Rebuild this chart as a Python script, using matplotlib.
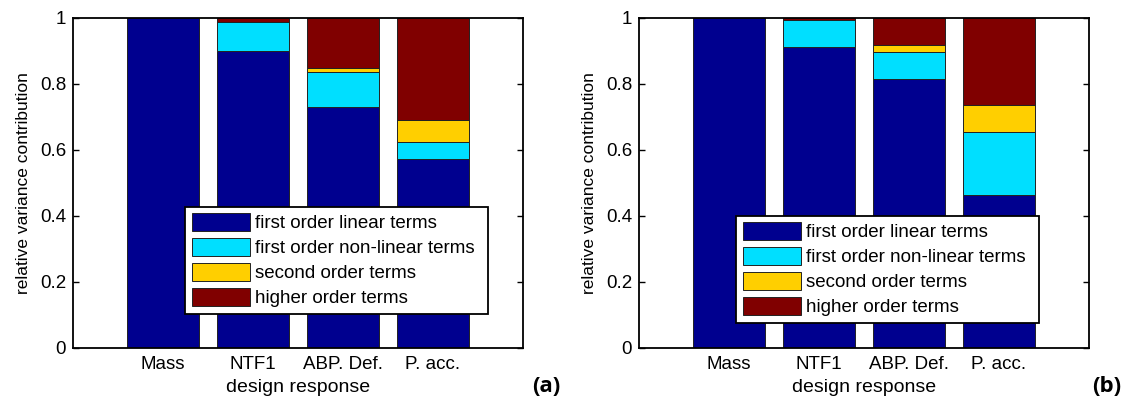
import matplotlib
matplotlib.use("Agg")
import matplotlib.pyplot as plt
import numpy as np

plt.rcParams['font.family'] = ['Liberation Sans', 'DejaVu Sans']

categories = ["Mass", "NTF1", "ABP. Def.", "P. acc."]
series_names = ["first order linear terms", "first order non-linear terms",
                "second order terms", "higher order terms"]
colors = ["#00008F", "#00DFFF", "#FFCF00", "#800000"]

# panel (a)
a_linear    = [1.000, 0.900, 0.729, 0.574]
a_nonlinear = [0.000, 0.089, 0.108, 0.050]
a_second    = [0.000, 0.000, 0.013, 0.067]
a_higher    = [0.000, 0.011, 0.150, 0.309]

# panel (b)
b_linear    = [1.000, 0.913, 0.816, 0.465]
b_nonlinear = [0.000, 0.082, 0.080, 0.191]
b_second    = [0.000, 0.000, 0.023, 0.079]
b_higher    = [0.000, 0.005, 0.081, 0.265]

yticks = [0, 0.2, 0.4, 0.6, 0.8, 1]
ytick_labels = ["0", "0.2", "0.4", "0.6", "0.8", "1"]

W, H = 1129, 398
fig = plt.figure(figsize=(W / 100, H / 100), dpi=100)

def draw(rect, data, legend_rect, tag, tag_xy):
    ax = fig.add_axes(rect)
    x = np.arange(1, len(categories) + 1)
    bottom = np.zeros(len(categories))
    handles = []
    for vals, c, name in zip(data, colors, series_names):
        h = ax.bar(x, vals, width=0.8, bottom=bottom, color=c,
                   edgecolor="#222222", linewidth=0.7, label=name)
        handles.append(h)
        bottom = bottom + np.array(vals)
    ax.set_xlim(0, 5)
    ax.set_ylim(0, 1)
    ax.set_xticks(x)
    ax.set_xticklabels(categories, fontsize=13.5)
    ax.set_yticks(yticks)
    ax.set_yticklabels(ytick_labels, fontsize=13.5)
    ax.tick_params(axis='y', direction='in', length=4, right=True, width=1, pad=5)
    ax.tick_params(axis='x', length=0, pad=6)
    for s in ax.spines.values():
        s.set_linewidth(1.3)
    ax.set_xlabel("design response", fontsize=14, labelpad=4)
    ax.set_ylabel("relative variance contribution", fontsize=12.5, labelpad=6)
    leg = ax.legend(handles=handles, loc='lower left',
                    bbox_to_anchor=legend_rect, bbox_transform=fig.transFigure,
                    mode='expand', fontsize=13.5, frameon=True, fancybox=False,
                    edgecolor='black', framealpha=1, borderpad=0.35,
                    labelspacing=0.3, handlelength=3.1, handleheight=1.1,
                    handletextpad=0.3, borderaxespad=0)
    leg.get_frame().set_linewidth(1.3)
    fig.text(tag_xy[0], tag_xy[1], tag, fontsize=16, fontweight='bold',
             ha='center', va='center', family=['Open Sans', 'DejaVu Sans'])
    return ax

def frac_rect(l, r, t, b):
    return [l / W, 1 - b / H, (r - l) / W, (b - t) / H]

draw(frac_rect(73, 523, 18, 348),
     [a_linear, a_nonlinear, a_second, a_higher],
     (185 / W, 1 - 314 / H, (488 - 185) / W, (314 - 205) / H),
     "(a)", (546 / W, 1 - 386 / H))
draw(frac_rect(639, 1089, 18, 348),
     [b_linear, b_nonlinear, b_second, b_higher],
     (736 / W, 1 - 323 / H, (1039 - 736) / W, (323 - 213) / H),
     "(b)", (1107 / W, 1 - 386 / H))

fig.savefig("out.png", dpi=100)
